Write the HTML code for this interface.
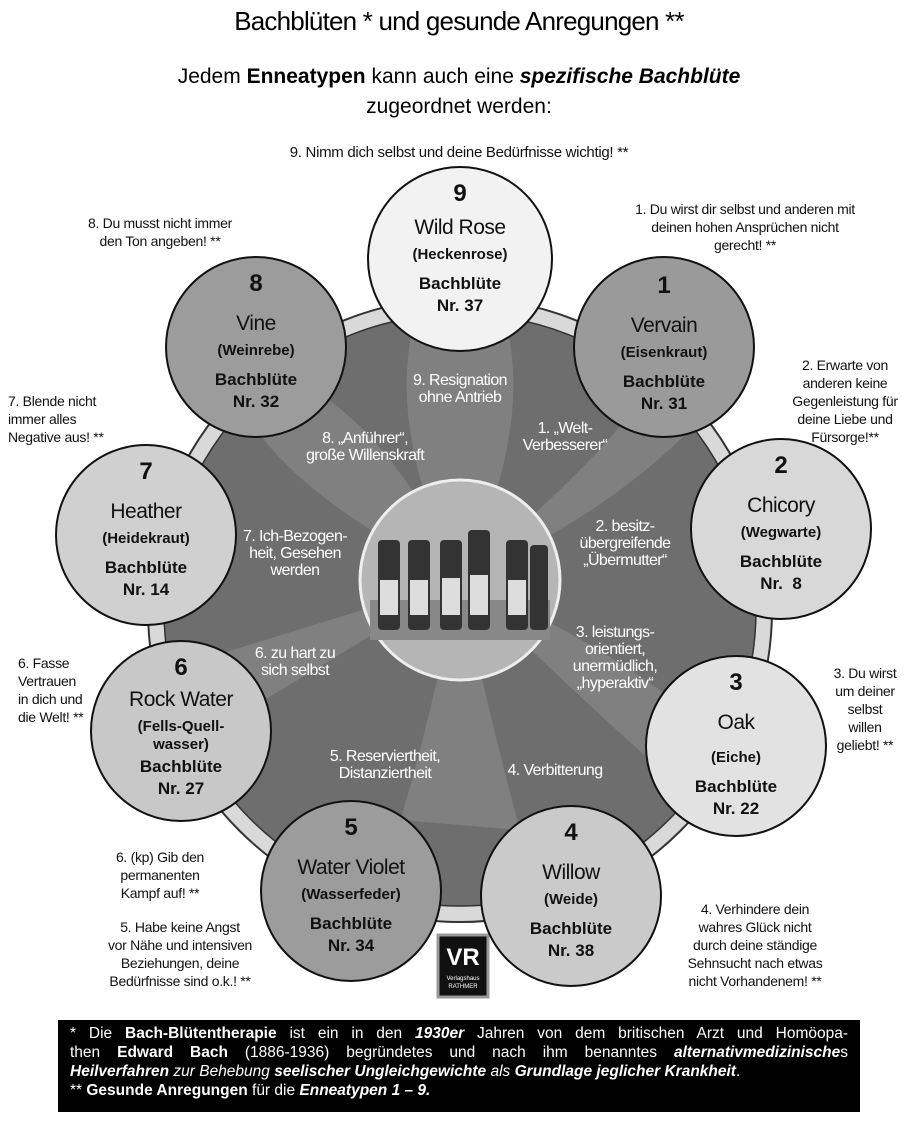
<!DOCTYPE html><html><head><meta charset="utf-8"><style>
body{margin:0;width:918px;height:1137px;background:#fff;overflow:hidden;position:relative;font-family:"Liberation Sans",sans-serif}
.a{position:absolute;text-align:center;white-space:nowrap}
.n{position:absolute;border-radius:50%;border:2px solid #111;text-align:center;box-sizing:border-box;font-family:"Liberation Sans",sans-serif;color:#111}
.n .num{font-weight:bold;font-size:24px;margin-top:12px}
.n .nm{font-size:21px;margin-top:14px;letter-spacing:-0.5px}
.n .de{font-weight:bold;font-size:15px;margin-top:6px}
.n .bb{font-weight:bold;font-size:17px;line-height:22px;margin-top:10px}
.w{color:#fff;font-size:16px;line-height:17px;letter-spacing:-0.6px}
.t{font-size:14px;line-height:18px;color:#111;letter-spacing:-0.3px}
</style></head><body>
<div class="a" style="left:0;width:918px;top:6px;font-size:26px;letter-spacing:-0.8px">Bachblüten * und gesunde Anregungen **</div>
<div class="a" style="left:0;width:918px;top:62px;font-size:21px;line-height:30px">Jedem <b>Enneatypen</b> kann auch eine <b><i>spezifische Bachblüte</i></b><br>zugeordnet werden:</div>
<div class="a t" style="left:0;width:918px;top:144px;font-size:15px">9. Nimm dich selbst und deine Bedürfnisse wichtig! **</div>
<svg style="position:absolute;left:0;top:0" width="918" height="1137">
<circle cx="460" cy="610" r="312" fill="#d9d9d9" stroke="#333" stroke-width="2"/>
<circle cx="460" cy="610" r="296" fill="#6e6e6e" stroke="#333" stroke-width="1.5"/>
<g fill="#888" opacity="0.7">
<path d="M460 580 Q380 420 420 300 L500 300 Q540 420 460 580Z"/>
<path d="M460 580 Q300 500 250 420 L300 380 Q400 440 460 580Z"/>
<path d="M460 580 Q600 460 640 400 L690 430 Q600 520 460 580Z"/>
<path d="M460 580 Q600 640 700 720 L650 760 Q560 680 460 580Z"/>
<path d="M460 580 Q300 680 230 720 L200 660 Q330 620 460 580Z"/>
<path d="M460 580 Q420 760 400 820 L520 830 Q490 720 460 580Z"/>
</g>
<circle cx="460" cy="580" r="100" fill="#b5b5b5" stroke="#eee" stroke-width="3"/>
<rect x="370" y="600" width="180" height="40" fill="#888"/>
<g fill="#333"><rect x="378" y="540" width="22" height="90" rx="4"/><rect x="408" y="540" width="22" height="90" rx="4"/><rect x="440" y="540" width="22" height="90" rx="4"/><rect x="468" y="530" width="22" height="100" rx="4"/><rect x="506" y="540" width="22" height="90" rx="4"/><rect x="530" y="545" width="18" height="85" rx="4"/></g>
<g fill="#ddd"><rect x="380" y="580" width="18" height="35"/><rect x="410" y="580" width="18" height="35"/><rect x="442" y="578" width="18" height="37"/><rect x="470" y="575" width="18" height="40"/><rect x="508" y="580" width="18" height="35"/></g>
<rect x="438" y="935" width="50" height="62" fill="#111" stroke="#999" stroke-width="3"/>
<text x="463" y="965" fill="#fff" font-family="Liberation Sans" font-weight="bold" font-size="24" text-anchor="middle">VR</text>
<text x="463" y="980" fill="#fff" font-family="Liberation Sans" font-size="6" text-anchor="middle">Verlagshaus</text>
<text x="463" y="988" fill="#fff" font-family="Liberation Sans" font-size="6" text-anchor="middle">RATHMER</text>
</svg>
<div class="n" style="left:367px;top:166px;width:186px;height:186px;background:#f2f2f2"><div class="num">9</div><div class="nm" style="margin-top:8px">Wild Rose</div><div class="de">(Heckenrose)</div><div class="bb">Bachblüte<br>Nr. 37</div></div>
<div class="n" style="left:573px;top:256px;width:182px;height:182px;background:#9a9a9a"><div class="num" style="margin-top:14px">1</div><div class="nm">Vervain</div><div class="de">(Eisenkraut)</div><div class="bb">Bachblüte<br>Nr. 31</div></div>
<div class="n" style="left:690px;top:438px;width:182px;height:182px;background:#d8d8d8"><div class="num">2</div><div class="nm">Chicory</div><div class="de">(Wegwarte)</div><div class="bb">Bachblüte<br>Nr.&nbsp; 8</div></div>
<div class="n" style="left:645px;top:655px;width:182px;height:182px;background:#e2e2e2"><div class="num">3</div><div class="nm">Oak</div><div class="de" style="margin-top:14px">(Eiche)</div><div class="bb">Bachblüte<br>Nr. 22</div></div>
<div class="n" style="left:480px;top:805px;width:182px;height:182px;background:#cacaca"><div class="num">4</div><div class="nm">Willow</div><div class="de">(Weide)</div><div class="bb">Bachblüte<br>Nr. 38</div></div>
<div class="n" style="left:260px;top:800px;width:182px;height:182px;background:#9c9c9c"><div class="num">5</div><div class="nm">Water Violet</div><div class="de">(Wasserfeder)</div><div class="bb">Bachblüte<br>Nr. 34</div></div>
<div class="n" style="left:90px;top:640px;width:182px;height:182px;background:#c8c8c8"><div class="num">6</div><div class="nm" style="margin-top:6px">Rock Water</div><div class="de" style="line-height:18px">(Fells-Quell-<br>wasser)</div><div class="bb" style="margin-top:2px">Bachblüte<br>Nr. 27</div></div>
<div class="n" style="left:55px;top:444px;width:182px;height:182px;background:#d0d0d0"><div class="num">7</div><div class="nm">Heather</div><div class="de">(Heidekraut)</div><div class="bb">Bachblüte<br>Nr. 14</div></div>
<div class="n" style="left:165px;top:256px;width:182px;height:182px;background:#9c9c9c"><div class="num">8</div><div class="nm">Vine</div><div class="de">(Weinrebe)</div><div class="bb">Bachblüte<br>Nr. 32</div></div>
<div class="a w" style="left:400px;top:372px;width:120px">9. Resignation<br>ohne Antrieb</div>
<div class="a w" style="left:505px;top:420px;width:120px">1. „Welt-<br>Verbesserer“</div>
<div class="a w" style="left:290px;top:430px;width:150px">8. „Anführer“,<br>große Willenskraft</div>
<div class="a w" style="left:240px;top:528px;width:110px">7. Ich-Bezogen-<br>heit, Gesehen<br>werden</div>
<div class="a w" style="left:565px;top:518px;width:120px">2. besitz-<br>übergreifende<br>„Übermutter“</div>
<div class="a w" style="left:555px;top:624px;width:120px">3. leistungs-<br>orientiert,<br>unermüdlich,<br>„hyperaktiv“</div>
<div class="a w" style="left:235px;top:645px;width:120px">6. zu hart zu<br>sich selbst</div>
<div class="a w" style="left:315px;top:748px;width:140px">5. Reserviertheit,<br>Distanziertheit</div>
<div class="a w" style="left:485px;top:762px;width:140px">4. Verbitterung</div>
<div class="a t" style="left:580px;top:200px;width:330px">1. Du wirst dir selbst und anderen mit<br>deinen hohen Ansprüchen nicht<br>gerecht! **</div>
<div class="a t" style="left:40px;top:214px;width:240px">8. Du musst nicht immer<br>den Ton angeben! **</div>
<div class="a t" style="left:775px;top:356px;width:140px">2. Erwarte von<br>anderen keine<br>Gegenleistung für<br>deine Liebe und<br>Fürsorge!**</div>
<div class="a t" style="left:0;top:392px;width:120px;text-align:left;padding-left:8px">7. Blende nicht<br>immer alles<br>Negative aus! **</div>
<div class="a t" style="left:0;top:654px;width:110px;text-align:left;padding-left:18px">6. Fasse<br>Vertrauen<br>in dich und<br>die Welt! **</div>
<div class="a t" style="left:815px;top:664px;width:100px">3. Du wirst<br>um deiner<br>selbst<br>willen<br>geliebt! **</div>
<div class="a t" style="left:90px;top:848px;width:140px">6. (kp) Gib den<br>permanenten<br>Kampf auf! **</div>
<div class="a t" style="left:60px;top:918px;width:240px">5. Habe keine Angst<br>vor Nähe und intensiven<br>Beziehungen, deine<br>Bedürfnisse sind o.k.! **</div>
<div class="a t" style="left:640px;top:900px;width:230px">4. Verhindere dein<br>wahres Glück nicht<br>durch deine ständige<br>Sehnsucht nach etwas<br>nicht Vorhandenem! **</div>
<div style="position:absolute;left:58px;top:1020px;width:802px;height:92px;background:#000;color:#fff;font-size:15.5px;line-height:19px;padding:4px 12px;box-sizing:border-box">
<div style="text-align:justify;text-align-last:justify">* Die <b>Bach-Blütentherapie</b> ist ein in den <b><i>1930er</i></b> Jahren von dem britischen Arzt und Homöopa-</div>
<div style="text-align:justify;text-align-last:justify">then <b>Edward Bach</b> (1886-1936) begründetes und nach ihm benanntes <b><i>alternativmedizinische</i></b>s</div>
<div><b><i>Heilverfahren</i></b> <i>zur Behebung</i> <b><i>seelischer Ungleichgewichte</i></b> <i>als</i> <b><i>Grundlage jeglicher Krankheit</i></b>.</div>
<div>** <b>Gesunde Anregungen</b> für die <b><i>Enneatypen 1 – 9.</i></b></div></div>
</body></html>
